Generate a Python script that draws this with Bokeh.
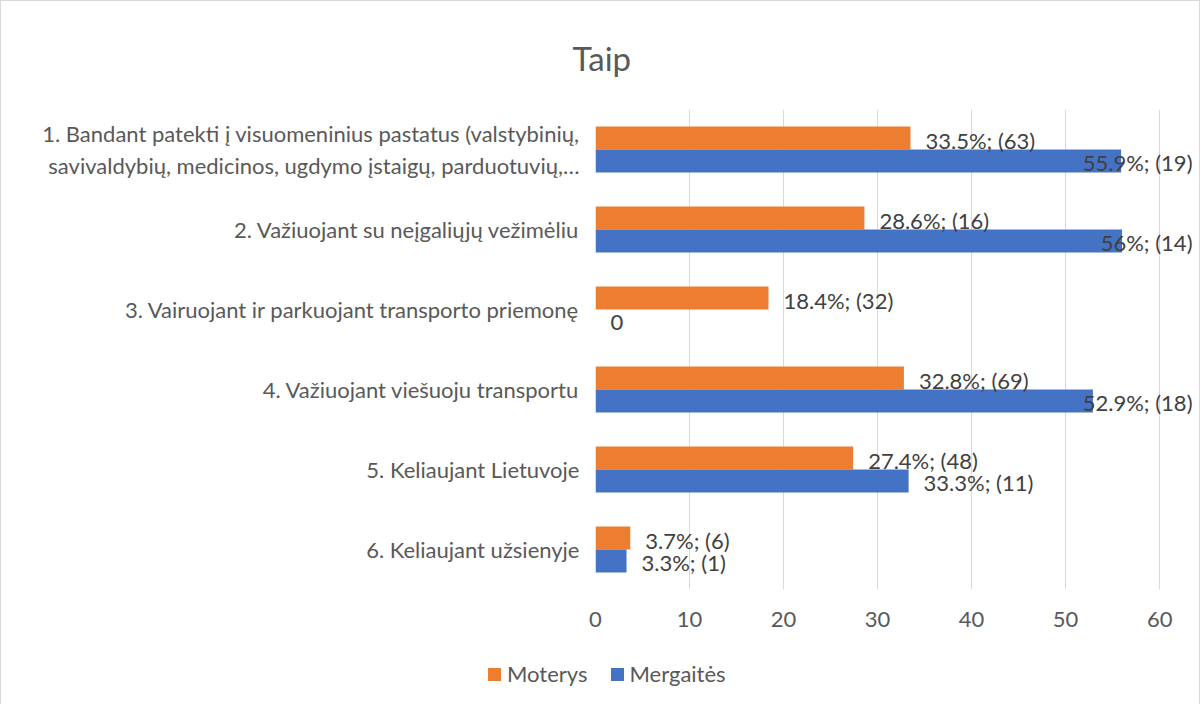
from bokeh.plotting import figure
from bokeh.layouts import column
from bokeh.models import (ColumnDataSource, FactorRange, Range1d, FixedTicker, Div)
from bokeh.transform import dodge
from bokeh.core.properties import value
from bokeh.embed import file_html
from bokeh.resources import INLINE

categories = [
    "1. Bandant patekti į visuomeninius pastatus (valstybinių,\nsavivaldybių, medicinos, ugdymo įstaigų, parduotuvių,…",
    "2. Važiuojant su neįgaliųjų vežimėliu",
    "3. Vairuojant ir parkuojant transporto priemonę",
    "4. Važiuojant viešuoju transportu",
    "5. Keliaujant Lietuvoje",
    "6. Keliaujant užsienyje",
]
moterys = [33.5, 28.6, 18.4, 32.8, 27.4, 3.7]
moterys_labels = ["33.5%; (63)", "28.6%; (16)", "18.4%; (32)", "32.8%; (69)", "27.4%; (48)", "3.7%; (6)"]
mergaites = [55.9, 56.0, 0.0, 52.9, 33.3, 3.3]
mergaites_labels = ["55.9%; (19)", "56%; (14)", "0", "52.9%; (18)", "33.3%; (11)", "3.3%; (1)"]
x_ticks = [0, 10, 20, 30, 40, 50, 60]
series_names = ["Moterys", "Mergaitės"]

ORANGE = "#ED7D31"
BLUE = "#4472C4"
TXT = "#595959"
FONT = "Lato"
FS = "22px"

X_END = 63.6
BAR_H = 0.2875
W = 1198

p = figure(width=W, height=640, output_backend="svg", toolbar_location=None,
           y_range=FactorRange(factors=categories[::-1]),
           x_range=Range1d(0, X_END),
           min_border_left=594, min_border_right=6, min_border_top=108, min_border_bottom=52)

src = ColumnDataSource(dict(cat=categories, moterys=moterys, mergaites=mergaites))
p.hbar(y=dodge("cat", BAR_H / 2, range=p.y_range), right="moterys", left=0,
       height=BAR_H, fill_color=ORANGE, line_color=None, source=src)
p.hbar(y=dodge("cat", -BAR_H / 2, range=p.y_range), right="mergaites", left=0,
       height=BAR_H, fill_color=BLUE, line_color=None, source=src)

def label_source(vals, labels):
    xs, aligns, offs = [], [], []
    for v in vals:
        if v > 50:
            xs.append(X_END); aligns.append("right"); offs.append(-1)
        else:
            xs.append(v); aligns.append("left"); offs.append(15)
    return ColumnDataSource(dict(cat=categories, x=xs, text=labels, align=aligns, off=offs))

ls1 = label_source(moterys, moterys_labels)
ls2 = label_source(mergaites, mergaites_labels)
p.text(x="x", y=dodge("cat", BAR_H / 2 - 0.03, range=p.y_range), text="text", source=ls1,
       text_align="align", x_offset="off", text_baseline="middle",
       text_font=value(FONT), text_font_size=FS, text_color="#404040")
p.text(x="x", y=dodge("cat", -BAR_H / 2 - 0.015, range=p.y_range), text="text", source=ls2,
       text_align="align", x_offset="off", text_baseline="middle",
       text_font=value(FONT), text_font_size=FS, text_color="#404040")

# axes
p.xaxis.ticker = FixedTicker(ticks=x_ticks)
p.xaxis.axis_line_color = None
p.xaxis.major_tick_line_color = None
p.xaxis.minor_tick_line_color = None
p.xaxis.major_label_text_font = FONT
p.xaxis.major_label_text_font_size = FS
p.xaxis.major_label_text_color = TXT
p.xaxis.major_label_standoff = 16

p.yaxis.axis_line_color = None
p.yaxis.major_tick_line_color = None
p.yaxis.minor_tick_line_color = None
p.yaxis.major_label_text_font = FONT
p.yaxis.major_label_text_font_size = FS
p.yaxis.major_label_text_color = TXT
p.yaxis.major_label_standoff = 10

p.xgrid.grid_line_color = "#d9d9d9"
p.xgrid.grid_line_width = 1
p.ygrid.grid_line_color = None
p.outline_line_color = None

# title
p.title.text = "Taip"
p.title.align = "left"
p.title.offset = -23
p.title.standoff = 63
p.title.text_font = FONT
p.title.text_font_size = "33px"
p.title.text_font_style = "normal"
p.title.text_color = TXT

# legend strip (HTML text)
def item(name, color):
    return (f'<span style="display:inline-block;width:13px;height:13px;background:{color};'
            f'margin-right:6px"></span><span style="margin-right:23px">{name}</span>')

legend_html = (
    f'<div style="display:flex;align-items:center;padding-left:482px;padding-top:16px;'
    f'font-family:Lato;font-size:{FS};line-height:24px;color:{TXT};white-space:nowrap">'
    + item(series_names[0], ORANGE) + item(series_names[1], BLUE) + '</div>'
)
legend_div = Div(text=legend_html, width=W - 20, height=56)

layout = column(p, legend_div, styles={"border": "1px solid #d9d9d9"})

open("out.html", "w").write(file_html(layout, INLINE))
